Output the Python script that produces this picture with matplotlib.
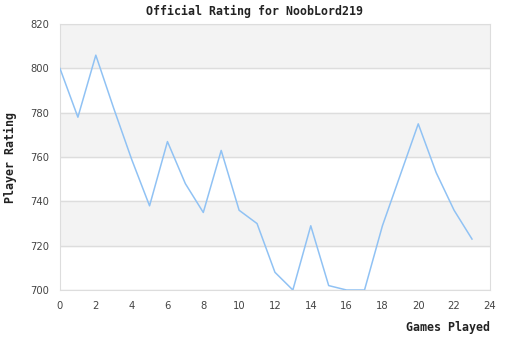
import matplotlib.pyplot as plt
import numpy as np

games = list(range(24))
rating = [800, 778, 806, 782, 759, 738, 767, 748, 735, 763, 736, 730,
          708, 700, 729, 702, 700, 700, 729, 752, 775, 753, 736, 723]

fig = plt.figure(figsize=(5.1, 3.4), dpi=100)
ax = fig.add_axes([0.1176, 0.147, 0.843, 0.782])

# alternating bands
for lo in range(720, 820, 40):
    ax.axhspan(lo, lo + 20, color='#f3f3f3', zorder=0)
ax.yaxis.grid(True, color='#dddddd', linewidth=1, zorder=1)

ax.plot(games, rating, color='#90c2f4', linewidth=1.1, zorder=3)

ax.set_xlim(0, 24)
ax.set_ylim(700, 820)
ax.set_xticks(np.arange(0, 25, 2))
ax.set_yticks(np.arange(700, 821, 20))
for s in ax.spines.values():
    s.set_color('#dddddd')
ax.tick_params(length=0, labelsize=7.2, colors='#444444')
ax.tick_params(axis='y', pad=8)
ax.tick_params(axis='x', pad=8)

mono = dict(family='DejaVu Sans Mono', weight='bold', size=8.4, color='#222222')
fig.text(0.5, 0.965, 'Official Rating for NoobLord219', ha='center', va='center', **mono)
ax.set_xlabel('Games Played', loc='right', labelpad=7, **mono)
ax.set_ylabel('Player Rating', labelpad=9, **mono)

plt.savefig('out.png')
